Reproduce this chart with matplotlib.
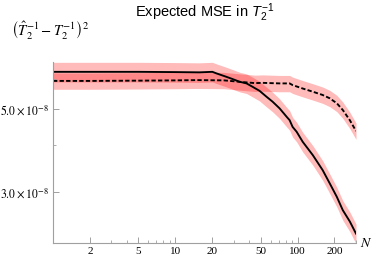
import matplotlib
matplotlib.use('Agg')
import matplotlib.pyplot as plt
from matplotlib.ticker import FixedLocator, NullFormatter
import numpy as np

plt.rcParams['mathtext.fontset'] = 'custom'
plt.rcParams['mathtext.rm'] = 'Liberation Sans'
plt.rcParams['mathtext.it'] = 'Liberation Sans:italic'

# Data (values in units of 1e-8)
N_solid = [1, 2, 5, 10, 15.7, 20.1, 21.7, 26.2, 29.3, 33.5, 38.2, 42.8, 48.8, 55.7,
           62.4, 71.2, 81.2, 86, 91, 98.1, 110, 133, 160, 183, 209, 234, 267, 300]
mse_solid = [6.28, 6.28, 6.28, 6.27, 6.26, 6.28, 6.22, 6.09, 6.01, 5.91, 5.85, 5.73, 5.59, 5.39,
             5.23, 5.02, 4.77, 4.67, 4.48, 4.35, 4.09, 3.77, 3.44, 3.17, 2.92, 2.69, 2.51, 2.33]
N_dash = [1, 2, 5, 10, 15, 25, 35, 45, 51.6, 71.2, 86, 91, 110, 133, 160, 183, 209, 234, 267, 300]
mse_dash = [5.94, 5.94, 5.95, 5.96, 5.97, 5.96, 5.90, 5.86, 5.87, 5.85, 5.85, 5.79, 5.67, 5.56,
            5.45, 5.34, 5.18, 4.97, 4.67, 4.37]
band_solid = 0.06   # relative half-width of the shaded band
band_dash = 0.05

x_major = [2, 5, 10, 20, 50, 100, 200]
x_minor = [3, 4, 6, 7, 8, 9, 30, 40, 60, 70, 80, 90, 300]
y_major = [3e-8, 5e-8]
y_major_labels = [r'$3.0\times10^{-8}$', r'$5.0\times10^{-8}$']
y_minor = [4e-8, 6e-8]

fig = plt.figure(figsize=(3.74, 2.60), dpi=100)
W, H = 374, 260
ax = fig.add_axes([53 / W, 1 - 243 / H, (356 - 53) / W, (243 - 62) / H])

ns = np.array(N_solid)
vs = np.array(mse_solid) * 1e-8
nd = np.array(N_dash)
vd = np.array(mse_dash) * 1e-8

ax.fill_between(ns, vs * (1 - band_solid), vs * (1 + band_solid), color='red', alpha=0.27, lw=0)
ax.fill_between(nd, vd * (1 - band_dash), vd * (1 + band_dash), color='red', alpha=0.27, lw=0)
ax.plot(ns, vs, color='black', lw=1.35)
ax.plot(nd, vd, color='black', lw=1.35, ls=(0, (2.3, 1.2)))

ax.set_xscale('log')
ax.set_yscale('log')
ax.set_xlim(1, 300)
ax.set_ylim(2.20e-8, 6.67e-8)

ax.xaxis.set_major_locator(FixedLocator(x_major))
ax.xaxis.set_minor_locator(FixedLocator(x_minor))
ax.xaxis.set_minor_formatter(NullFormatter())
ax.set_xticklabels([str(v) for v in x_major], fontfamily='Liberation Serif', fontsize=8)

ax.yaxis.set_major_locator(FixedLocator(y_major))
ax.yaxis.set_minor_locator(FixedLocator(y_minor))
ax.yaxis.set_minor_formatter(NullFormatter())
ax.set_yticklabels(y_major_labels, fontsize=8.5, math_fontfamily='stix')

for s in ['top', 'right']:
    ax.spines[s].set_visible(False)
for s in ['left', 'bottom']:
    ax.spines[s].set_color('#a0a0a0')
    ax.spines[s].set_linewidth(0.8)

ax.tick_params(which='both', direction='in', color='#a0a0a0', labelcolor='black')
ax.tick_params(which='major', length=4, width=0.7, pad=3)
ax.tick_params(which='minor', length=2, width=0.6)

fig.text(204.5 / W, 1 - 13 / H, r'Expected MSE in $T_2^{-1}$', ha='center', va='center',
         fontfamily='Liberation Sans', fontsize=10.5)
fig.text(11 / W, 1 - 31 / H, r'$\left(\hat{T}_2^{-1}-T_2^{-1}\right)^2$', ha='left', va='center',
         fontsize=10.5, math_fontfamily='stix')
fig.text(366 / W, 1 - 243 / H, r'$N$', ha='center', va='center', fontsize=10, math_fontfamily='stix')

fig.savefig('out.png', dpi=100)
